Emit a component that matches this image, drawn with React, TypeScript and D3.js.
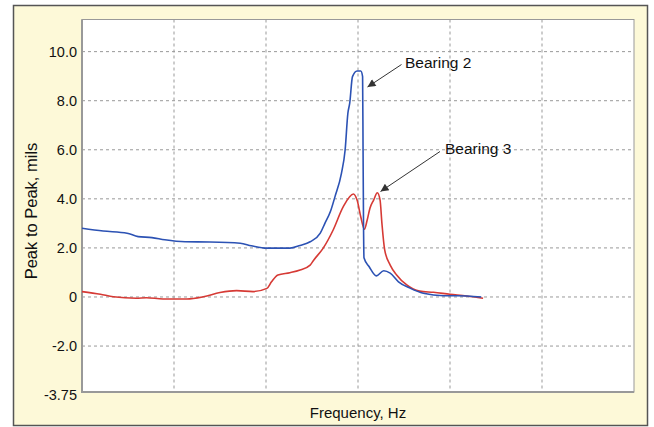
import React from "react";
import * as d3 from "d3";

const yTicks = [10, 8, 6, 4, 2, 0, -2];
const yTickLabels = ["10.0", "8.0", "6.0", "4.0", "2.0", "0", "-2.0"];
const yBottomLabel = "-3.75";
const xGrid = [1, 2, 3, 4, 5];

// Bearing 2 (blue): [frequency unit, peak-to-peak mils]
const bearing2X = [0.0, 0.23, 0.49, 0.61, 0.76, 0.9, 1.12, 1.39, 1.72, 1.84, 2.01, 2.26, 2.37, 2.48, 2.59, 2.64, 2.7, 2.75, 2.82, 2.86, 2.89, 2.91, 2.94, 2.99, 3.03, 3.05, 3.055, 3.06, 3.065, 3.12, 3.2, 3.28, 3.35, 3.44, 3.57, 3.71, 3.93, 4.07, 4.34];
const bearing2Y = [2.8, 2.69, 2.6, 2.46, 2.42, 2.33, 2.25, 2.24, 2.19, 2.09, 1.99, 1.99, 2.1, 2.25, 2.6, 3.0, 3.48, 4.09, 5.04, 5.99, 7.49, 7.9, 8.98, 9.21, 9.21, 8.98, 6.0, 3.0, 1.6, 1.24, 0.86, 1.07, 0.97, 0.62, 0.35, 0.15, 0.05, 0.05, 0.0];

// Bearing 3 (red)
const bearing3X = [0.0, 0.2, 0.34, 0.59, 0.7, 0.88, 1.14, 1.32, 1.5, 1.68, 1.86, 2.01, 2.06, 2.13, 2.26, 2.37, 2.48, 2.52, 2.62, 2.73, 2.84, 2.95, 2.99, 3.03, 3.07, 3.1, 3.13, 3.17, 3.21, 3.24, 3.26, 3.29, 3.35, 3.42, 3.53, 3.67, 3.82, 4.0, 4.18, 4.36];
const bearing3Y = [0.22, 0.11, 0.01, -0.05, -0.03, -0.08, -0.08, 0.01, 0.18, 0.26, 0.22, 0.35, 0.62, 0.9, 0.99, 1.1, 1.3, 1.51, 1.98, 2.73, 3.68, 4.2, 3.95, 3.27, 2.76, 3.14, 3.62, 3.95, 4.25, 3.95, 3.0, 1.92, 1.3, 0.9, 0.49, 0.24, 0.19, 0.11, 0.04, -0.05];

const FONT = "'Liberation Sans', Arial, Helvetica, sans-serif";

export default function App() {
  const W = 654, H = 427;
  const left = 82, right = 634, top = 19.5, bottom = 392;
  const x = d3.scaleLinear().domain([0, 6]).range([left, right]);
  const y = d3.scaleLinear().domain([-3.873, 11.31]).range([bottom, top]);
  const line = d3
    .line<[number, number]>()
    .x((d) => x(d[0]))
    .y((d) => y(d[1]))
    .curve(d3.curveMonotoneX);
  const b2 = bearing2X.map((v, i) => [v, bearing2Y[i]] as [number, number]);
  const b3 = bearing3X.map((v, i) => [v, bearing3Y[i]] as [number, number]);

  return (
    <div style={{ position: "absolute", left: 0, top: 0 }}>
      <svg width={W} height={H} style={{ display: "block" }}>
        <defs>
          <marker id="arrow" viewBox="0 0 10 10" refX="10" refY="5" markerWidth="10" markerHeight="8" markerUnits="userSpaceOnUse" orient="auto">
            <path d="M0,0 L10,5 L0,10 z" fill="#333" />
          </marker>
        </defs>
        <rect x={13.5} y={5.5} width={634} height={420} fill="#fdf9d8" stroke="#555" strokeWidth={1.5} />
        <rect x={left} y={top} width={right - left} height={bottom - top} fill="#fff" stroke="#999" strokeWidth={1} />
        {yTicks.map((t) => (
          <line key={"h" + t} x1={left} x2={right} y1={y(t)} y2={y(t)} stroke="#999" strokeWidth={1} strokeDasharray="3,3" />
        ))}
        {xGrid.map((t) => (
          <line key={"v" + t} x1={x(t)} x2={x(t)} y1={top} y2={bottom} stroke="#999" strokeWidth={1} strokeDasharray="3,3" />
        ))}
        <line x1={left} x2={left} y1={top} y2={bottom + 1} stroke="#999" strokeWidth={2} />
        <line x1={left - 1} x2={right} y1={bottom} y2={bottom} stroke="#999" strokeWidth={2} />
        <path d={line(b3) || ""} fill="none" stroke="#d63a35" strokeWidth={1.6} />
        <path d={line(b2) || ""} fill="none" stroke="#2c52b4" strokeWidth={1.6} />
        {yTicks.map((t, i) => (
          <text key={"t" + t} x={77} y={y(t)} dy="0.35em" textAnchor="end" fontFamily={FONT} fontSize={14.5} fill="#111">
            {yTickLabels[i]}
          </text>
        ))}
        <text x={77} y={y(-3.873) + 3} dy="0.35em" textAnchor="end" fontFamily={FONT} fontSize={14.5} fill="#111">
          {yBottomLabel}
        </text>
        <text transform={`translate(37,211) rotate(-90)`} textAnchor="middle" fontFamily={FONT} fontSize={16.5} fill="#111">
          Peak to Peak, mils
        </text>
        <text x={358} y={418} textAnchor="middle" fontFamily={FONT} fontSize={15} fill="#111">
          Frequency, Hz
        </text>
        <line x1={401.5} y1={64.5} x2={367.5} y2={87} stroke="#333" strokeWidth={1} markerEnd="url(#arrow)" />
        <text x={405} y={67.5} fontFamily={FONT} fontSize={15.5} fill="#111">Bearing 2</text>
        <line x1={440} y1={151.5} x2={380.5} y2={191.5} stroke="#333" strokeWidth={1} markerEnd="url(#arrow)" />
        <text x={445} y={153.5} fontFamily={FONT} fontSize={15.5} fill="#111">Bearing 3</text>
      </svg>
    </div>
  );
}
